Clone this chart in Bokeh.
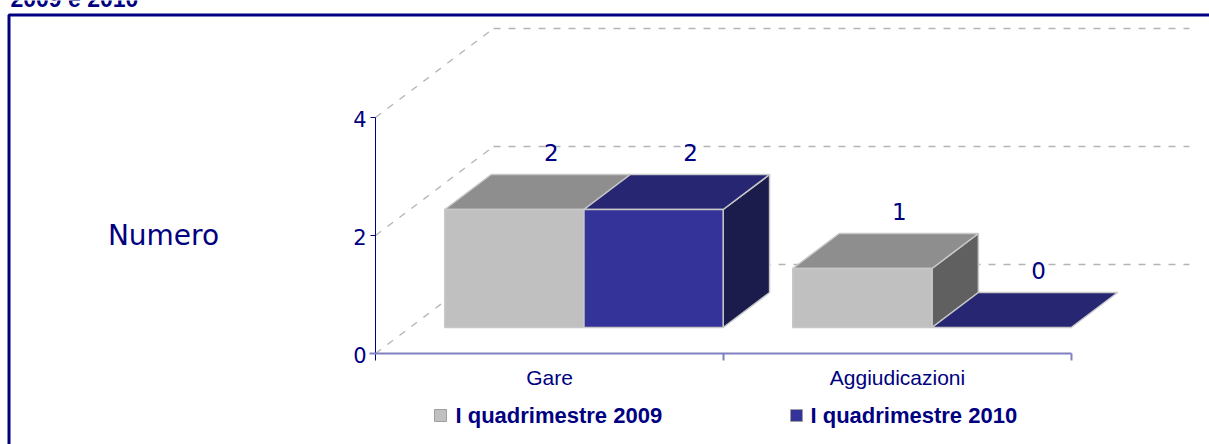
from bokeh.plotting import figure
from bokeh.models import Range1d
from bokeh.core.properties import value
from bokeh.embed import file_html
from bokeh.resources import INLINE

# ---- data ----
title_text = "2009 e 2010"
y_label = "Numero"
categories = ["Gare", "Aggiudicazioni"]
series_names = ["I quadrimestre 2009", "I quadrimestre 2010"]
values_2009 = [2, 1]
values_2010 = [2, 0]
y_ticks = [0, 2, 4]
y_tick_labels = ["0", "2", "4"]

# ---- styles ----
NAVY = "#000080"
front_cols = ["#C0C0C0", "#333399"]
top_cols = ["#8E8E8E", "#262673"]
side_cols = ["#606060", "#1C1C4C"]
edge_col = "#C8C8C8"
grid_col = "#B4B4B4"

W, H = 1209, 444
# pixel layout of the plotting scale (page pixels)
X0_PX, CAT_PX = 375.0, 348.0      # x of category 0 boundary, px per category
Y0_PX, VAL_PX = 353.0, 59.0       # y of value 0, px per unit


def dx(px):
    return px / CAT_PX


def dy(px):
    return px / VAL_PX


def X(px):
    return (px - X0_PX) / CAT_PX


def Y(py):
    return (Y0_PX - py) / VAL_PX


p = figure(width=W, height=H,
           x_range=Range1d(X(0), X(W)), y_range=Range1d(Y(H), Y(0)),
           output_backend="svg", toolbar_location=None, min_border=0,
           margin=(0, 0, 0, 0))
p.axis.visible = False
p.grid.visible = False
p.outline_line_color = None
p.background_fill_color = "white"
p.border_fill_color = "white"

# depth geometry (px)
WALL_DX, WALL_DY = 118.0, 89.0
F_DY = 26.0
B_DY = 61.0
F_DX = F_DY * WALL_DX / WALL_DY
B_DX = B_DY * WALL_DX / WALL_DY
GAP, BW = 0.1, 0.4
ncat = len(categories)

# ---- back wall gridlines and left wall diagonals ----
for t in y_ticks:
    p.line([dx(WALL_DX), ncat + dx(WALL_DX)], [t + dy(WALL_DY)] * 2,
           line_color=grid_col, line_width=1.3, line_dash="7 8")
    p.line([0, dx(WALL_DX)], [t, t + dy(WALL_DY)],
           line_color=grid_col, line_width=1.3, line_dash="7 8")

# ---- 3D bars ----
all_vals = [values_2009, values_2010]
for i in range(ncat):
    for j in range(len(all_vals)):
        v = all_vals[j][i]
        x0 = i + GAP + BW * j
        x1 = x0 + BW
        fx, fy = dx(F_DX), dy(F_DY)
        bx, by = dx(B_DX), dy(B_DY)
        if v > 0:
            p.patch([x1 + fx, x1 + bx, x1 + bx, x1 + fx],
                    [fy, by, v + by, v + fy],
                    fill_color=side_cols[j], line_color=edge_col, line_width=1.5)
        p.patch([x0 + fx, x1 + fx, x1 + bx, x0 + bx],
                [v + fy, v + fy, v + by, v + by],
                fill_color=top_cols[j], line_color=edge_col, line_width=1.5)
        if v > 0:
            p.patch([x0 + fx, x1 + fx, x1 + fx, x0 + fx],
                    [fy, fy, v + fy, v + fy],
                    fill_color=front_cols[j], line_color=edge_col, line_width=1.5)

# ---- axes ----
p.line([0, 0], [Y(360), y_ticks[-1]], line_color=NAVY, line_width=1)
p.segment(x0=[dx(-5)] * len(y_ticks), y0=y_ticks, x1=[0] * len(y_ticks), y1=y_ticks,
          line_color=NAVY, line_width=1)
p.line([dx(-6), ncat], [0, 0], line_color="#8080C0", line_width=2)
p.segment(x0=list(range(1, ncat + 1)), y0=[0] * ncat,
          x1=list(range(1, ncat + 1)), y1=[dy(-7)] * ncat,
          line_color="#8080C0", line_width=2)

# tick labels
p.text(x=[dx(-9)] * len(y_ticks), y=[t - dy(1) for t in y_ticks], text=y_tick_labels,
       text_font=value("DejaVu Sans"), text_font_size="21px", text_color=NAVY,
       text_align="right", text_baseline="middle")

# category labels
p.text(x=[i + 0.5 for i in range(ncat)], y=[Y(377)] * ncat, text=categories,
       text_font=value("Liberation Sans"), text_font_size="21px", text_color=NAVY,
       text_align="center", text_baseline="middle")

# value labels
lx, ly, lt = [], [], []
for i in range(ncat):
    for j in range(len(all_vals)):
        v = all_vals[j][i]
        x0 = i + GAP + BW * j
        lx.append(x0 + BW / 2 + dx(F_DX) + dx(37))
        ly.append(v + dy(F_DY) + dy(57))
        lt.append(str(v))
p.text(x=lx, y=ly, text=lt, text_font=value("DejaVu Sans"), text_font_size="23px",
       text_color=NAVY, text_align="center", text_baseline="middle")

# y label
p.text(x=[X(163)], y=[Y(235)], text=[y_label], text_font=value("DejaVu Sans"),
       text_font_size="28px", text_color=NAVY, text_align="center",
       text_baseline="middle")

# legend
leg_sq_x = [434, 790]
leg_tx_x = [455, 810]
for k in range(2):
    p.rect(x=[X(leg_sq_x[k] + 6)], y=[Y(415)], width=dx(12), height=dy(12),
           fill_color=front_cols[k], line_color="#A0A0A0", line_width=1)
    p.text(x=[X(leg_tx_x[k])], y=[Y(415)], text=[series_names[k]],
           text_font=value("Liberation Sans"), text_font_size="22px",
           text_font_style="bold", text_color=NAVY, text_align="left",
           text_baseline="middle")

# title (clipped at top, as in the reference)
p.text(x=[X(10)], y=[Y(-2)], text=[title_text], text_font=value("Liberation Sans"),
       text_font_size="23px", text_font_style="bold", text_color=NAVY,
       text_align="left", text_baseline="middle")

# frame border
p.line([X(8.5), X(8.5), X(W + 5)], [Y(H + 5), Y(14.5), Y(14.5)],
       line_color=NAVY, line_width=3)

open("out.html", "w").write(file_html(p, INLINE))
